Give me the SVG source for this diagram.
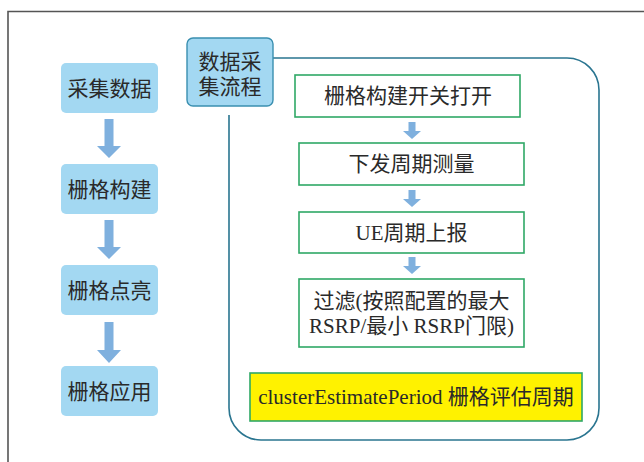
<svg xmlns="http://www.w3.org/2000/svg" width="644" height="462" viewBox="0 0 644 462">
<defs>
<style>
.t{font-family:"Liberation Serif","Noto Sans CJK SC",serif;font-size:21px;fill:#2a2a2a;text-anchor:middle;dominant-baseline:central}
.lb{fill:#a3d8f2;stroke:none}
.gb{fill:#fff;stroke:#2fa866;stroke-width:1.6}
.ar{fill:#7fb0de}
</style>
</defs>
<rect width="644" height="462" fill="#fff"/>
<path d="M8 462 V11.5 H644" fill="none" stroke="#555" stroke-width="1.6"/>
<g id="connectors">
<path d="M229 115 V408 A32 32 0 0 0 261 440 H567 A32 32 0 0 0 599 408 V90 A32 32 0 0 0 567 58 H270" fill="none" stroke="#2a7590" stroke-width="1.6"/>
<path class="ar" d="M104.5 119 H113.5 V146 H121 L109 158 L97 146 H104.5 Z"/>
<path class="ar" d="M104.5 220 H113.5 V247 H121 L109 259 L97 247 H104.5 Z"/>
<path class="ar" d="M104.5 322 H113.5 V350 H121 L109 363 L97 350 H104.5 Z"/>
<path class="ar" d="M408.5 122 H415.5 V131 H421 L412 139 L403 131 H408.5 Z"/>
<path class="ar" d="M408.5 190 H415.5 V199 H421 L412 207 L403 199 H408.5 Z"/>
<path class="ar" d="M408.5 257 H415.5 V266 H421 L412 274 L403 266 H408.5 Z"/>
</g>
<g id="n_collect"><rect class="lb" x="61" y="63" width="97" height="50" rx="5"/><text class="t" x="109.5" y="89">采集数据</text></g>
<g id="n_build"><rect class="lb" x="61" y="164" width="97" height="50" rx="5"/><text class="t" x="109.5" y="190">栅格构建</text></g>
<g id="n_light"><rect class="lb" x="61" y="265" width="97" height="50" rx="5"/><text class="t" x="109.5" y="291">栅格点亮</text></g>
<g id="n_apply"><rect class="lb" x="61" y="366" width="97" height="50" rx="5"/><text class="t" x="109.5" y="392">栅格应用</text></g>
<g id="n_header"><rect x="187" y="38" width="86" height="68" rx="6" fill="#a3d8f2" stroke="#3a8fb0" stroke-width="1.4"/><text class="t" x="230" y="62">数据采</text><text class="t" x="230" y="87">集流程</text></g>
<g id="n_switch"><rect class="gb" x="295" y="75" width="225" height="42"/><text class="t" x="408" y="96">栅格构建开关打开</text></g>
<g id="n_send"><rect class="gb" x="299" y="143" width="225" height="42"/><text class="t" x="411.5" y="164">下发周期测量</text></g>
<g id="n_report"><rect class="gb" x="299" y="212" width="225" height="41"/><text class="t" x="411.5" y="233">UE周期上报</text></g>
<g id="n_filter"><rect class="gb" x="299" y="279" width="225" height="68"/><text class="t" x="411.5" y="301">过滤(按照配置的最大</text><text class="t" x="411.5" y="326">RSRP/最小 RSRP门限)</text></g>
<g id="n_period"><rect x="250" y="373" width="332" height="48" fill="#fff200" stroke="#2fa866" stroke-width="1.6"/><text class="t" x="416" y="397">clusterEstimatePeriod 栅格评估周期</text></g>
</svg>
